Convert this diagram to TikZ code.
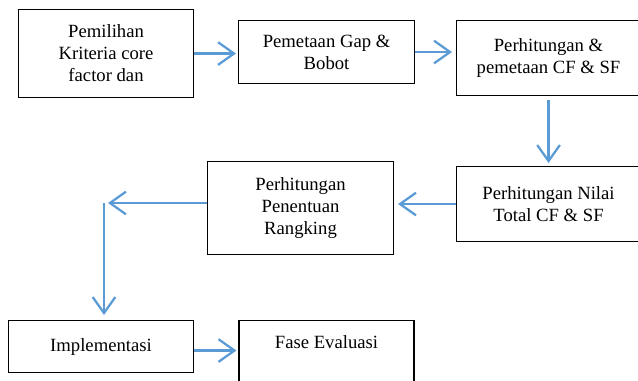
\documentclass[tikz,border=0pt]{standalone}
\usepackage{fontspec}
\setmainfont{Liberation Serif}
\usetikzlibrary{positioning, arrows.meta, calc}

\definecolor{panahbiru}{RGB}{91,155,213}

\begin{document}
\begin{tikzpicture}[x=0.75pt, y=-0.75pt,
	kotak/.style={draw, line width=0.8pt, align=center, anchor=north west,
		font=\rmfamily\fontsize{14}{16.5}\selectfont, inner sep=2pt},
	panah/.style={-{Straight Barb[length=12pt, width=17pt]}, line width=1.7pt, panahbiru}]
	
	% Parameter (satuan px gambar asli)
	\def\px{0.75pt}
	
	\useasboundingbox (0,0) rectangle (638,381);
	
	% --- 1. BARIS ATAS ---
	\node[kotak, minimum width=175*\px, minimum height=88*\px] (pilih) at (18,9)
		{Pemilihan\\Kriteria core\\factor dan};
	\node[kotak, minimum width=176*\px, minimum height=63*\px] (gap) at (238,20)
		{Pemetaan Gap \&\\Bobot};
	\node[kotak, minimum width=184*\px, minimum height=75*\px] (cfsf) at (456,20)
		{Perhitungan \&\\pemetaan CF \& SF};
	
	% --- 2. BARIS TENGAH ---
	\node[kotak, minimum width=184*\px, minimum height=75*\px] (nilai) at (456,166)
		{Perhitungan Nilai\\Total CF \& SF};
	\node[kotak, minimum width=186*\px, minimum height=93*\px] (rangking) at (207,161)
		{Perhitungan\\Penentuan\\Rangking};
	\coordinate (belok) at (104,203); % titik belok ke bawah
	
	% --- 3. BARIS BAWAH ---
	\node[kotak, minimum width=185*\px, minimum height=52*\px] (impl) at (8,320)
		{Implementasi};
	\node[kotak, anchor=north, minimum width=175*\px, inner ysep=0pt,
		text height=21pt, text depth=45pt] (evaluasi) at (326.5,320)
		{Fase Evaluasi};
	
	% --- 4. PANAH ALUR ---
	\draw[panah, shorten >=1.5pt] (pilih.east) -- (pilih.east -| gap.west);
	\draw[panah, shorten >=3pt] (gap.east) -- (gap.east -| cfsf.west);
	\draw[panah, shorten <=3pt, shorten >=2.25pt] (cfsf.south) -- (nilai.north);
	\draw[panah, shorten >=3pt] (nilai.west) -- (nilai.west -| rangking.east);
	\draw[panah, shorten >=3pt] (rangking.west |- belok) -- (belok);
	\draw[panah, shorten >=3.75pt] (belok) -- (belok |- impl.north);
	\draw[panah, shorten >=1.5pt] ([yshift=-3pt]impl.east) -- ([yshift=-3pt]impl.east -| evaluasi.west);
	
\end{tikzpicture}
\end{document}
